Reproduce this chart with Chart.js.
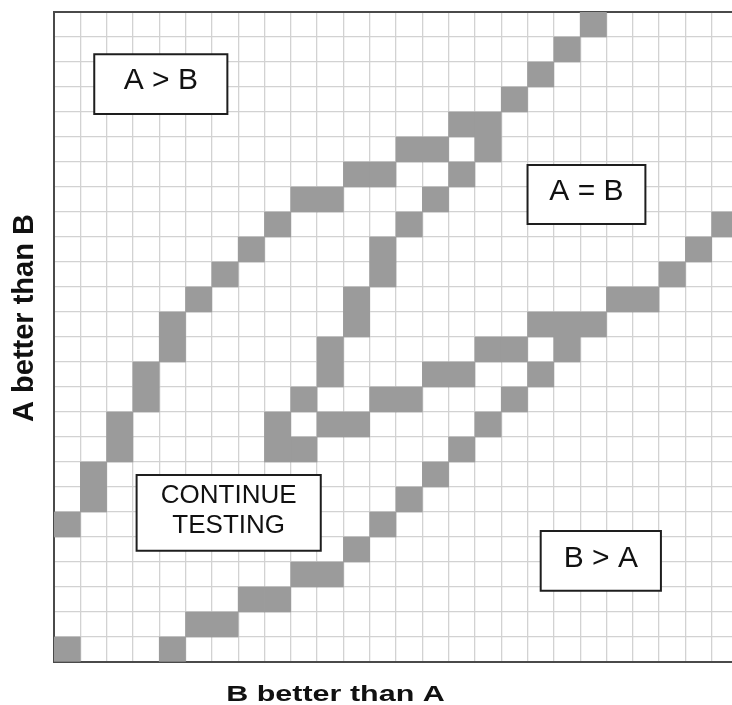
<!DOCTYPE html>
<html>
<head>
<meta charset="utf-8">
<script src="https://cdn.jsdelivr.net/npm/chart.js@4/dist/chart.umd.min.js"></script>
<style>
  html, body { margin: 0; padding: 0; background: #fff; overflow: hidden; }
  canvas { display: block; }
</style>
</head>
<body>
<canvas id="grid-chart" width="740" height="705"></canvas>
<script>
// Sequential test grid: columns = trials where B did better, rows = trials where A did better
var columns = ["0", "1", "2", "3", "4", "5", "6", "7", "8", "9", "10", "11", "12",
               "13", "14", "15", "16", "17", "18", "19", "20", "21", "22", "23", "24", "25"];
var rowCount = 26;

// shaded cells as [column, row], row counted from the bottom
var aWinsEdge = [[0,5],[1,6],[1,7],[2,8],[2,9],[3,10],[3,11],[4,12],[4,13],[5,14],[6,15],
                 [7,16],[8,17],[9,18],[10,18],[11,19],[12,19],[13,20],[14,20],[15,21],[16,21],
                 [17,22],[18,23],[19,24],[20,25]];
var bWinsEdge = [[0,0],[4,0],[5,1],[6,1],[7,2],[8,2],[9,3],[10,3],[11,4],[12,5],[13,6],
                 [14,7],[15,8],[16,9],[17,10],[18,11],[19,12]];
var tieUpperEdge = [[8,8],[8,9],[9,10],[10,11],[10,12],[11,13],[11,14],[12,15],[12,16],
                    [13,17],[14,18],[15,19],[16,20]];
var tieLowerEdge = [[9,8],[10,9],[11,9],[12,10],[13,10],[14,11],[15,11],[16,12],[17,12],
                    [18,13],[19,13],[20,13],[21,14],[22,14],[23,15],[24,16],[25,17]];

// region boxes, in grid units from the lower-left corner
var regionBoxes = [
  { lines: ["A > B"], x0: 1.53, x1: 6.59, y0: 21.92, y1: 24.31, size: 30, lift: 3.5 },
  { lines: ["A = B"], x0: 18.0, x1: 22.48, y0: 17.52, y1: 19.88, size: 30, lift: 3 },
  { lines: ["CONTINUE", "TESTING"], x0: 3.14, x1: 10.14, y0: 4.45, y1: 7.48, size: 26, lift: 2.5, lineGap: 30 },
  { lines: ["B > A"], x0: 18.5, x1: 23.07, y0: 2.85, y1: 5.24, size: 30, lift: 2.5 }
];

// each layer holds at most one floating bar per column
function layerCells(cells) {
  var layers = [];
  cells.forEach(function (cell) {
    var col = cell[0], row = cell[1];
    var layer = layers.find(function (l) { return l[col] === null; });
    if (!layer) {
      layer = columns.map(function () { return null; });
      layers.push(layer);
    }
    layer[col] = [row, row + 1];
  });
  return layers;
}

var allCells = aWinsEdge.concat(bWinsEdge, tieUpperEdge, tieLowerEdge);
var datasets = layerCells(allCells).map(function (layer) {
  return {
    data: layer,
    backgroundColor: "#9b9b9b",
    borderWidth: 0,
    categoryPercentage: 1,
    barPercentage: 1
  };
});

var annotations = {
  id: "annotations",
  afterDraw: function (chart) {
    var ctx = chart.ctx;
    var xs = chart.scales.x, ys = chart.scales.y;
    var gx = function (v) { return xs.getPixelForValue(v - 0.5); };

    regionBoxes.forEach(function (b) {
      var left = gx(b.x0), right = gx(b.x1);
      var top = ys.getPixelForValue(b.y1), bottom = ys.getPixelForValue(b.y0);
      ctx.save();
      ctx.fillStyle = "#fff";
      ctx.fillRect(left, top, right - left, bottom - top);
      ctx.strokeStyle = "#1e1e1e";
      ctx.lineWidth = 2;
      ctx.strokeRect(left, top, right - left, bottom - top);
      ctx.fillStyle = "#111";
      ctx.font = b.size + 'px "Liberation Sans", Arial, sans-serif';
      ctx.textAlign = "center";
      ctx.textBaseline = "middle";
      var cx = (left + right) / 2;
      var cy = (top + bottom) / 2 - b.lift;
      var gap = b.lineGap || 0;
      b.lines.forEach(function (line, i) {
        ctx.fillText(line, cx, cy + (i - (b.lines.length - 1) / 2) * gap);
      });
      ctx.restore();
    });

    // axis titles
    ctx.save();
    ctx.fillStyle = "#111";
    ctx.textAlign = "center";
    ctx.textBaseline = "alphabetic";
    ctx.translate(335.5, 701);
    ctx.scale(1, 0.71);
    ctx.font = 'bold 30.5px "Liberation Sans", Arial, sans-serif';
    ctx.fillText("B better than A", 0, 0);
    ctx.restore();

    ctx.save();
    ctx.fillStyle = "#111";
    ctx.textAlign = "center";
    ctx.textBaseline = "alphabetic";
    ctx.translate(33.3, 318);
    ctx.rotate(-Math.PI / 2);
    ctx.font = 'bold 29px "Liberation Sans", Arial, sans-serif';
    ctx.fillText("A better than B", 0, 0);
    ctx.restore();
  }
};

var ctx = document.getElementById("grid-chart").getContext("2d");
window.gridChart = new Chart(ctx, {
  type: "bar",
  data: { labels: columns, datasets: datasets },
  options: {
    responsive: false,
    animation: false,
    layout: { padding: { left: 54, top: 12, right: 2, bottom: 43 } },
    plugins: {
      legend: { display: false },
      tooltip: { enabled: false }
    },
    scales: {
      x: {
        stacked: true,
        grid: { color: "#d2d2d2", lineWidth: 1.3, drawTicks: false, offset: true },
        border: { display: true, color: "#4a4a4a", width: 2 },
        ticks: { display: false }
      },
      y: {
        stacked: false,
        min: 0,
        max: rowCount,
        grid: {
          drawTicks: false,
          lineWidth: function (c) { return c.tick && c.tick.value === rowCount ? 2 : 1.3; },
          color: function (c) { return c.tick && c.tick.value === rowCount ? "#4a4a4a" : "#d2d2d2"; }
        },
        border: { display: true, color: "#4a4a4a", width: 2 },
        ticks: { display: false, stepSize: 1 }
      }
    }
  },
  plugins: [annotations]
});
</script>
</body>
</html>
